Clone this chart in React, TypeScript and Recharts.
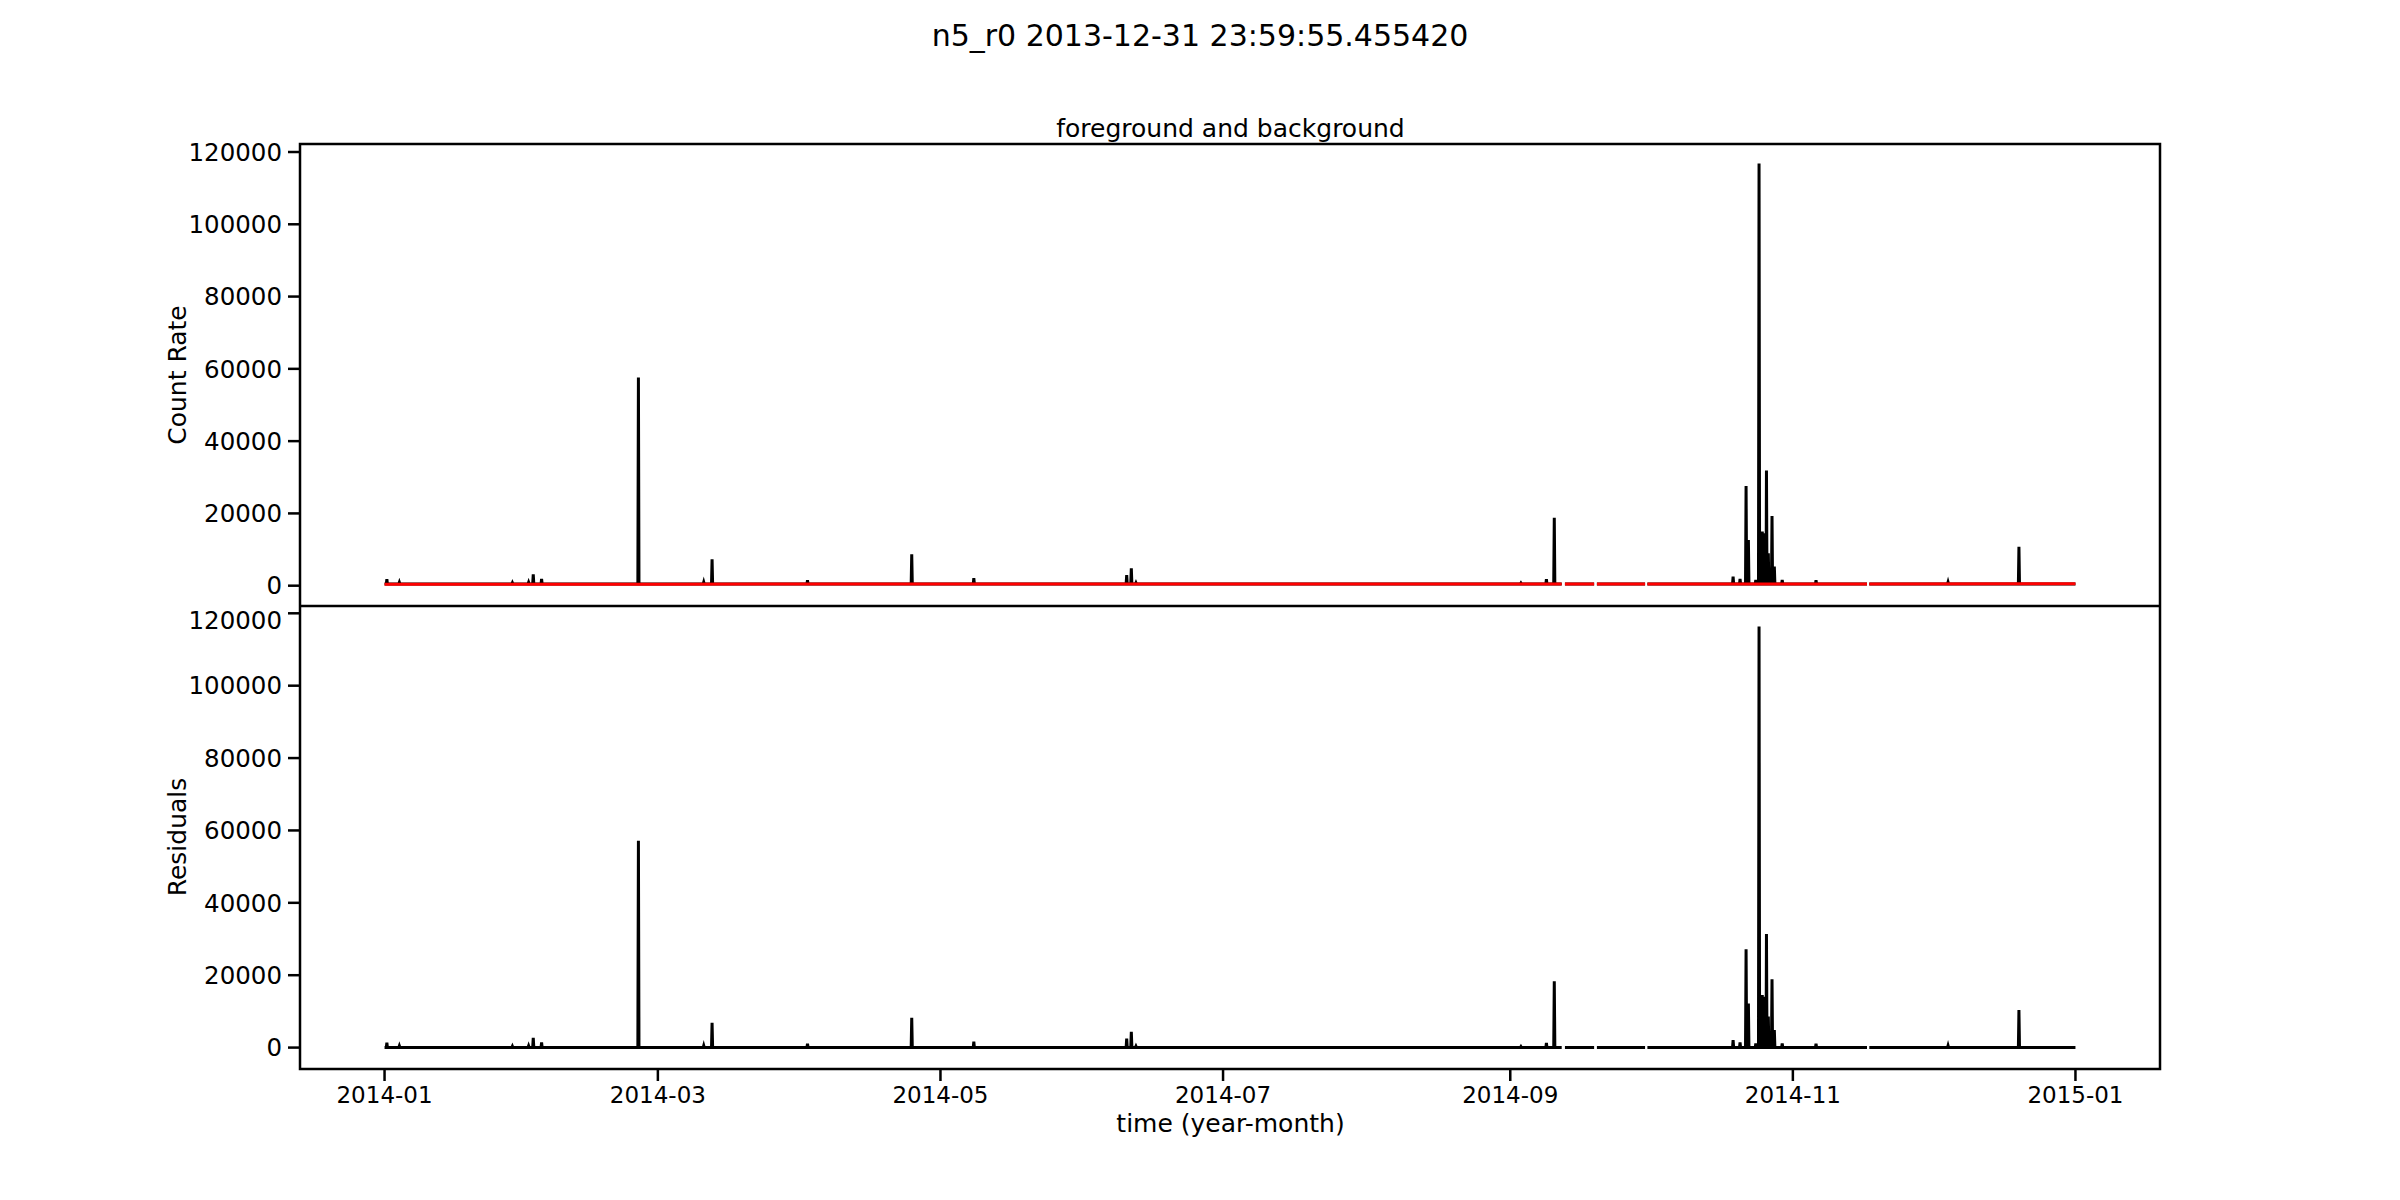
import { ComposedChart, Line, XAxis, YAxis, ReferenceArea } from "recharts";

// x is days since 2014-01-01 (UTC)
const DAY_MS = 86400000;
const T0 = Date.UTC(2014, 0, 1);

const monthTicks = ["2014-01", "2014-03", "2014-05", "2014-07", "2014-09", "2014-11", "2015-01"];
const rateTicks = [0, 20000, 40000, 60000, 80000, 100000, 120000];

const xDomain = [-18.25, 383.25];
const topDomain = [-5620, 122216];
const bottomDomain = [-5917, 122018];

// black trace: spike positions (days) and peak count rate
const spikeDays = [
  0.5, 3.2, 27.6, 31.1, 32.1, 33.9, 54.8, 68.9, 70.7, 91.3, 113.8, 127.2,
  160.2, 161.2, 162.2, 245.3, 250.8, 252.5, 291.1, 292.6, 293.9, 294.4,
  296.0, 296.7, 297.1, 297.4, 297.9, 298.1, 298.3, 298.7, 299.1, 299.5,
  300.0, 301.7, 309.0, 337.5, 352.8,
];
const spikePeaks = [
  1800, 900, 800, 900, 3150, 1850, 57600, 1000, 7300, 1500, 8700, 2100,
  2960, 4800, 800, 700, 1770, 18800, 2500, 1900, 27600, 12650,
  1600, 116800, 6000, 15000, 14500, 8000, 31850, 9000, 4500, 19300,
  5300, 1600, 1500, 1000, 10800,
];
const baseRate = 450;

// red background model
const bgDays = [0, 60, 120, 180, 240, 300, 365];
const bgRates = [400, 430, 460, 450, 440, 480, 520];

// data gaps (start, end) in days
const gapStarts = [254.1, 261.1, 272.1, 320.0];
const gapEnds = [254.8, 261.7, 272.6, 320.5];

const SPIKE_HALF = 0.12;
const FONT = "DejaVu Sans";

type Pt = { day: number; v: number | null };

function withGaps(pts: Pt[], level: (d: number) => number) {
  gapStarts.forEach((g, i) => {
    pts.push({ day: g, v: level(g) });
    pts.push({ day: (g + gapEnds[i]) / 2, v: null });
    pts.push({ day: gapEnds[i], v: level(gapEnds[i]) });
  });
  return pts.sort((a, b) => a.day - b.day);
}

function countTrace(offset: number): Pt[] {
  const base = baseRate - offset;
  const pts: Pt[] = [{ day: 0, v: base }, { day: 365, v: base }];
  spikeDays.forEach((d, i) => {
    pts.push({ day: d - SPIKE_HALF, v: base });
    pts.push({ day: d, v: spikePeaks[i] - offset });
    pts.push({ day: d + SPIKE_HALF, v: base });
  });
  return withGaps(pts, () => base);
}

function bgLevel(d: number) {
  let i = 0;
  while (i < bgDays.length - 2 && d > bgDays[i + 1]) i++;
  const t = (d - bgDays[i]) / (bgDays[i + 1] - bgDays[i]);
  return bgRates[i] + t * (bgRates[i + 1] - bgRates[i]);
}

const countData = countTrace(0);
const residualData = countTrace(baseRate);
const bgData = withGaps(
  bgDays.map((d, i) => ({ day: d, v: bgRates[i] })),
  bgLevel
);

const tickDays = monthTicks.map((m) => {
  const [y, mo] = m.split("-").map(Number);
  return (Date.UTC(y, mo - 1, 1) - T0) / DAY_MS;
});
const tickLabel = (d: number) => monthTicks[tickDays.indexOf(d)] ?? "";

const xTickStyle = { fill: "#000", fontSize: 23, fontFamily: FONT };
const yTickStyle = { fill: "#000", fontSize: 24.5, fontFamily: FONT };
const tickLineStyle = { stroke: "#000", strokeWidth: 2.5 };

function Frame({ y }: { y: number[] }) {
  return (
    <ReferenceArea
      x1={xDomain[0]}
      x2={xDomain[1]}
      y1={y[0]}
      y2={y[1]}
      fill="none"
      fillOpacity={0}
      stroke="#000"
      strokeWidth={2.5}
      ifOverflow="visible"
    />
  );
}

export default function App() {
  return (
    <div
      style={{
        position: "absolute",
        top: 0,
        left: 0,
        width: 2400,
        height: 1200,
        background: "#fff",
        fontFamily: FONT,
      }}
    >
      <div style={{ position: "absolute", top: 0, left: 0 }}>
        <ComposedChart
          width={2400}
          height={606}
          margin={{ top: 144, right: 240, bottom: 0, left: 0 }}
        >
          <XAxis
            type="number"
            dataKey="day"
            domain={xDomain}
            allowDataOverflow
            ticks={tickDays}
            hide
          />
          <YAxis
            type="number"
            domain={topDomain}
            allowDataOverflow
            ticks={rateTicks}
            width={300}
            tickSize={12}
            tickMargin={6}
            axisLine={false}
            tickLine={tickLineStyle}
            tick={yTickStyle}
          />
          <Line
            data={countData}
            dataKey="v"
            stroke="#000"
            strokeWidth={3}
            dot={false}
            connectNulls={false}
            isAnimationActive={false}
          />
          <Line
            data={bgData}
            dataKey="v"
            stroke="#ff0000"
            strokeWidth={3}
            dot={false}
            connectNulls={false}
            isAnimationActive={false}
          />
          <Frame y={topDomain} />
        </ComposedChart>
      </div>

      <div style={{ position: "absolute", top: 606, left: 0 }}>
        <ComposedChart
          width={2400}
          height={594}
          margin={{ top: 0, right: 240, bottom: 0, left: 0 }}
        >
          <XAxis
            type="number"
            dataKey="day"
            domain={xDomain}
            allowDataOverflow
            ticks={tickDays}
            tickFormatter={tickLabel}
            height={131}
            tickSize={12}
            tickMargin={6}
            axisLine={false}
            tickLine={tickLineStyle}
            tick={xTickStyle}
          />
          <YAxis
            type="number"
            domain={bottomDomain}
            allowDataOverflow
            ticks={rateTicks}
            width={300}
            tickSize={12}
            tickMargin={6}
            axisLine={false}
            tickLine={tickLineStyle}
            tick={yTickStyle}
          />
          <Line
            data={residualData}
            dataKey="v"
            stroke="#000"
            strokeWidth={3}
            dot={false}
            connectNulls={false}
            isAnimationActive={false}
          />
          <Frame y={bottomDomain} />
        </ComposedChart>
      </div>

      <svg
        width={2400}
        height={1200}
        style={{ position: "absolute", top: 0, left: 0, pointerEvents: "none" }}
        fontFamily={FONT}
      >
        <text x={1200} y={46} fontSize={30} textAnchor="middle">
          n5_r0 2013-12-31 23:59:55.455420
        </text>
        <text x={1230.5} y={137} fontSize={25} textAnchor="middle">
          foreground and background
        </text>
        <text x={1230.5} y={1132} fontSize={25} textAnchor="middle">
          time (year-month)
        </text>
        <text
          x={186}
          y={375}
          fontSize={25}
          textAnchor="middle"
          transform="rotate(-90 186 375)"
        >
          Count Rate
        </text>
        <text
          x={186}
          y={837}
          fontSize={25}
          textAnchor="middle"
          transform="rotate(-90 186 837)"
        >
          Residuals
        </text>
      </svg>
    </div>
  );
}
